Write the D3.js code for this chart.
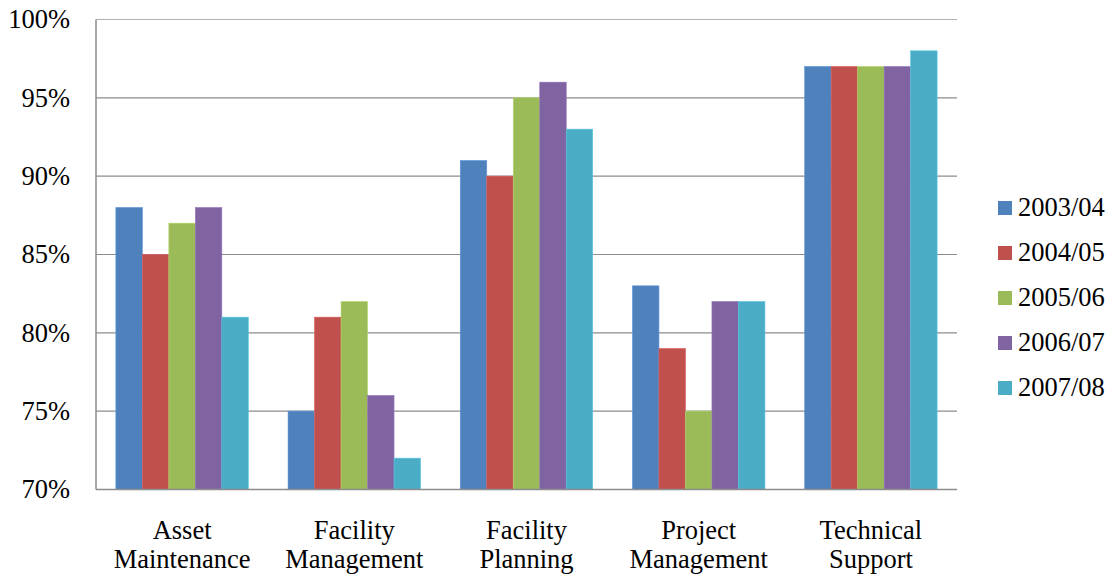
<!DOCTYPE html>
<html>
<head>
<meta charset="utf-8">
<script src="https://cdn.jsdelivr.net/npm/d3@7"></script>
</head>
<body style="margin:0;background:#fff">
<svg id="chart" width="1109" height="575"></svg>
<script>
// Categories, series and tick values
const categories = [["Asset", "Maintenance"], ["Facility", "Management"], ["Facility", "Planning"], ["Project", "Management"], ["Technical", "Support"]];
const seriesNames = ["2003/04", "2004/05", "2005/06", "2006/07", "2007/08"];
const s2003 = [88, 75, 91, 83, 97];
const s2004 = [85, 81, 90, 79, 97];
const s2005 = [87, 82, 95, 75, 97];
const s2006 = [88, 76, 96, 82, 97];
const s2007 = [81, 72, 93, 82, 98];
const seriesValues = [s2003, s2004, s2005, s2006, s2007];
const yTicks = [70, 75, 80, 85, 90, 95, 100];
const colors = ["#4F81BD", "#C0504D", "#9BBB59", "#8064A2", "#4BACC6"];

(function () {
  const svg = d3.select("#chart");
  const font = '"Liberation Serif"';
  const fs = 26.5;
  const plotL = 96, plotR = 957, plotT = 19.5, plotB = 489.5;

  const x0 = d3.scaleBand().domain(d3.range(categories.length)).range([plotL, plotR]).paddingInner(0).paddingOuter(0);
  // gap width 150%: 5 bars + 1.5 bar of gap per category
  const x1 = d3.scaleBand().domain(d3.range(seriesNames.length))
    .range([0, x0.bandwidth()]).paddingInner(0).paddingOuter(0.75);
  const y = d3.scaleLinear().domain([70, 100]).range([plotB, plotT]);

  // gridlines
  svg.append("g").selectAll("line").data(yTicks.slice(1)).join("line")
    .attr("x1", plotL).attr("x2", plotR)
    .attr("y1", d => y(d)).attr("y2", d => y(d))
    .attr("stroke", d => d === 100 ? "#b0b0b0" : "#8c8c8c").attr("stroke-width", 1.2);

  // bars
  const groups = svg.append("g").selectAll("g").data(categories).join("g")
    .attr("transform", (d, i) => `translate(${x0(i)},0)`);
  groups.selectAll("rect").data((d, i) => seriesValues.map((s, j) => ({ j, v: s[i] }))).join("rect")
    .attr("x", d => x1(d.j)).attr("width", x1.bandwidth())
    .attr("y", d => y(d.v)).attr("height", d => y(70) - y(d.v))
    .attr("fill", d => colors[d.j])
    .attr("stroke", d => d3.color(colors[d.j]).brighter(0.4)).attr("stroke-width", 0.6);

  // axis lines
  svg.append("line").attr("x1", plotL).attr("x2", plotL).attr("y1", plotT).attr("y2", plotB)
    .attr("stroke", "#8c8c8c").attr("stroke-width", 1.5);
  svg.append("line").attr("x1", plotL).attr("x2", plotR).attr("y1", plotB).attr("y2", plotB)
    .attr("stroke", "#8c8c8c").attr("stroke-width", 1.5);

  // y tick labels
  svg.append("g").selectAll("text").data(yTicks).join("text")
    .attr("x", 70).attr("y", d => y(d)).attr("dy", "0.33em")
    .attr("text-anchor", "end").attr("font-size", fs).style("font-family", font)
    .text(d => d + "%");

  // category labels
  const cl = svg.append("g").selectAll("text").data(categories).join("text")
    .attr("text-anchor", "middle").attr("font-size", fs).style("font-family", font)
    .attr("transform", (d, i) => `translate(${x0(i) + x0.bandwidth() / 2},0)`);
  cl.selectAll("tspan").data(d => d).join("tspan")
    .attr("x", 0).attr("y", (d, k) => 539 + k * 29).text(d => d);

  // legend
  const lg = svg.append("g").selectAll("g").data(seriesNames).join("g")
    .attr("transform", (d, i) => `translate(998,${208 + i * 45})`);
  lg.append("rect").attr("x", 0).attr("y", -7).attr("width", 14).attr("height", 14)
    .attr("fill", (d, i) => colors[i]);
  lg.append("text").attr("x", 20).attr("y", 8)
    .attr("font-size", fs).style("font-family", font).text(d => d);
})();
</script>
</body>
</html>
